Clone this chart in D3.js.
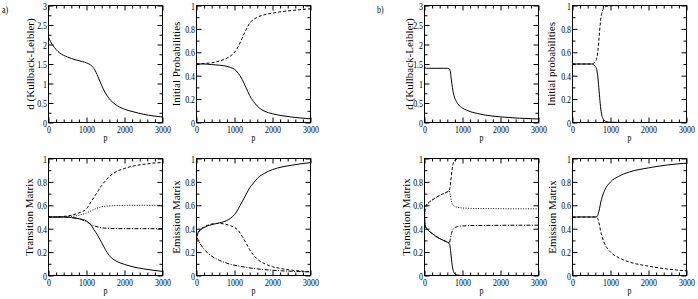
<!DOCTYPE html>
<html><head><meta charset="utf-8">
<script src="https://cdn.jsdelivr.net/npm/d3@7"></script>
<style>
body{margin:0;background:#fff}
svg text{font-family:"Liberation Serif","Times New Roman",serif;fill:#000}
</style></head><body>
<svg id="c" width="698" height="299"></svg>
<script>
// ---------- tick labels ----------
const xTicks = [0, 1000, 2000, 3000];
const xMinorTicks = [200,400,600,800,1200,1400,1600,1800,2200,2400,2600,2800];
const klTicks = [0, 0.5, 1, 1.5, 2, 2.5, 3];
const klMinorTicks = [0.25, 0.75, 1.25, 1.75, 2.25, 2.75];
const probTicks = [0, 0.2, 0.4, 0.6, 0.8, 1];
const probMinorTicks = [0.1, 0.3, 0.5, 0.7, 0.9];

// ---------- panel a) ----------
const pA1 = [0, 50, 100, 200, 300, 500, 700, 900, 1000, 1100, 1200, 1300, 1400, 1500, 1600, 1750, 2000, 2250, 2500, 2750, 3000];
const klA = [2.19, 2.08, 2.0, 1.87, 1.78, 1.68, 1.61, 1.56, 1.53, 1.48, 1.38, 1.18, 0.95, 0.75, 0.61, 0.47, 0.34, 0.27, 0.21, 0.17, 0.14];

const pA2 = [0, 200, 400, 600, 800, 900, 1000, 1100, 1200, 1300, 1400, 1500, 1600, 1800, 2000, 2250, 2500, 2750, 3000];
const initA_solid = [0.5, 0.5, 0.495, 0.49, 0.48, 0.47, 0.455, 0.42, 0.37, 0.3, 0.23, 0.18, 0.14, 0.095, 0.075, 0.058, 0.047, 0.038, 0.032];
const initA_dash  = [0.5, 0.505, 0.51, 0.525, 0.55, 0.57, 0.6, 0.65, 0.72, 0.79, 0.85, 0.88, 0.9, 0.922, 0.935, 0.948, 0.957, 0.965, 0.972];

const pA3 = [0, 200, 400, 600, 800, 1000, 1100, 1200, 1300, 1400, 1500, 1600, 1800, 2000, 2250, 2500, 2750, 3000];
const tA_solid   = [0.5, 0.5, 0.5, 0.495, 0.485, 0.465, 0.44, 0.39, 0.34, 0.28, 0.22, 0.17, 0.12, 0.095, 0.072, 0.057, 0.045, 0.035];
const tA_dash    = [0.5, 0.5, 0.505, 0.515, 0.535, 0.57, 0.62, 0.67, 0.72, 0.77, 0.81, 0.845, 0.89, 0.915, 0.937, 0.95, 0.96, 0.966];
const tA_dot     = [0.5, 0.5, 0.5, 0.505, 0.515, 0.535, 0.55, 0.565, 0.578, 0.587, 0.592, 0.595, 0.598, 0.6, 0.6, 0.6, 0.6, 0.6];
const tA_dashdot = [0.5, 0.5, 0.5, 0.495, 0.485, 0.46, 0.44, 0.425, 0.415, 0.408, 0.405, 0.403, 0.401, 0.4, 0.4, 0.4, 0.4, 0.4];

const pA4 = [0, 50, 100, 200, 300, 400, 600, 800, 900, 1000, 1100, 1200, 1300, 1400, 1500, 1600, 1800, 2000, 2250, 2500, 2750, 3000];
const eA_solid   = [0.33, 0.37, 0.39, 0.41, 0.425, 0.435, 0.45, 0.47, 0.49, 0.52, 0.57, 0.63, 0.69, 0.75, 0.79, 0.83, 0.875, 0.905, 0.928, 0.942, 0.955, 0.965];
const eA_dash    = [0.33, 0.37, 0.39, 0.415, 0.43, 0.44, 0.445, 0.435, 0.425, 0.41, 0.385, 0.335, 0.28, 0.22, 0.175, 0.14, 0.1, 0.075, 0.058, 0.046, 0.038, 0.032];
const eA_dashdot = [0.33, 0.3, 0.27, 0.225, 0.19, 0.165, 0.13, 0.105, 0.095, 0.088, 0.082, 0.076, 0.07, 0.065, 0.061, 0.057, 0.05, 0.045, 0.04, 0.036, 0.033, 0.03];

// ---------- panel b) ----------
const pB1 = [0, 20, 50, 100, 300, 500, 600, 650, 680, 700, 720, 750, 800, 850, 900, 1000, 1100, 1200, 1400, 1600, 2000, 2500, 3000];
const klB = [1.45, 1.4, 1.39, 1.39, 1.39, 1.39, 1.39, 1.38, 1.3, 1.15, 1.0, 0.8, 0.62, 0.52, 0.45, 0.37, 0.32, 0.28, 0.23, 0.19, 0.145, 0.11, 0.09];

const pB2 = [0, 300, 500, 550, 600, 640, 670, 700, 730, 760, 800, 850, 900, 1000, 1500, 3000];
const initB_solid = [0.5, 0.5, 0.5, 0.495, 0.48, 0.45, 0.38, 0.27, 0.16, 0.08, 0.035, 0.015, 0.007, 0.002, 0, 0];
const initB_dash  = [0.5, 0.5, 0.5, 0.505, 0.52, 0.55, 0.62, 0.73, 0.84, 0.92, 0.965, 0.985, 0.993, 0.998, 1, 1];

const pB3 = [0, 10, 25, 50, 100, 200, 300, 400, 500, 600, 650, 670, 690, 710, 730, 750, 780, 820, 870, 950, 1100, 1300, 1600, 2000, 2500, 3000];
const tB_solid   = [0.5, 0.45, 0.42, 0.405, 0.385, 0.36, 0.335, 0.315, 0.3, 0.285, 0.275, 0.255, 0.2, 0.14, 0.085, 0.05, 0.022, 0.009, 0.004, 0.001, 0, 0, 0, 0, 0, 0];
const tB_dash    = [0.5, 0.55, 0.58, 0.6, 0.62, 0.645, 0.665, 0.685, 0.7, 0.715, 0.725, 0.75, 0.8, 0.86, 0.915, 0.95, 0.978, 0.991, 0.996, 0.999, 1, 1, 1, 1, 1, 1];
const tB_dot     = [0.5, 0.55, 0.58, 0.6, 0.62, 0.645, 0.665, 0.685, 0.7, 0.715, 0.725, 0.705, 0.665, 0.635, 0.615, 0.603, 0.594, 0.587, 0.583, 0.579, 0.575, 0.573, 0.572, 0.571, 0.57, 0.57];
const tB_dashdot = [0.5, 0.45, 0.42, 0.405, 0.385, 0.36, 0.335, 0.315, 0.3, 0.285, 0.275, 0.295, 0.33, 0.36, 0.38, 0.393, 0.405, 0.413, 0.418, 0.422, 0.425, 0.427, 0.428, 0.429, 0.43, 0.43];

const pB4 = [0, 10, 30, 100, 300, 500, 600, 650, 680, 710, 740, 780, 850, 1000, 1200, 1500, 2000, 2500, 3000];
const eB_solid = [0.5, 0.5, 0.5, 0.5, 0.5, 0.5, 0.5, 0.505, 0.53, 0.57, 0.62, 0.67, 0.73, 0.8, 0.845, 0.885, 0.92, 0.945, 0.96];
const eB_dash  = [0.5, 0.5, 0.5, 0.5, 0.5, 0.5, 0.5, 0.495, 0.47, 0.43, 0.38, 0.33, 0.27, 0.2, 0.155, 0.115, 0.08, 0.055, 0.04];

// ---------- drawing ----------
const svg = d3.select("#c");
const W = 114, H = 117, SX = 0.72, FS = 11;
const DASH = {solid: null, dash: "3,2", dot: "1,1.5", dashdot: "4,1.5,1,1.5"};
const zip = (p, v) => p.map((d, i) => [d, v[i]]);
let clipId = 0;

function styleText(sel) {
  sel.attr("font-family", '"Liberation Serif","Times New Roman",serif').attr("font-size", FS).attr("fill", "#000");
}

function panel(o) {
  const x = d3.scaleLinear().domain([0, 3000]).range([o.x0 + 0.5, o.x0 + W + 0.5]);
  const y = d3.scaleLinear().domain([0, o.yMax]).range([o.y0 + H + 0.5, o.y0 + 0.5]);
  const g = svg.append("g");
  const id = "clip" + (clipId++);
  g.append("clipPath").attr("id", id).append("rect")
    .attr("x", o.x0).attr("y", o.y0).attr("width", W + 1).attr("height", H + 1);
  const line = d3.line().x(d => x(d[0])).y(d => y(d[1])).curve(d3.curveMonotoneX);
  const lg = g.append("g").attr("clip-path", `url(#${id})`);
  o.series.forEach(s => {
    lg.append("path").attr("d", line(zip(s.p, s.v)))
      .attr("fill", "none").attr("stroke", "#000").attr("stroke-width", 1)
      .attr("stroke-dasharray", DASH[s.style]);
  });
  // frame
  g.append("rect").attr("x", o.x0 + 0.5).attr("y", o.y0 + 0.5).attr("width", W).attr("height", H)
    .attr("fill", "none").attr("stroke", "#000").attr("stroke-width", 1);

  const ax = (gen, tx, ty) => {
    const a = g.append("g").attr("transform", `translate(${tx},${ty})`).call(gen);
    a.select(".domain").remove();
    a.selectAll("line").attr("stroke", "#000").attr("stroke-width", 1);
    return a;
  };
  // bottom
  const b = ax(d3.axisBottom(x).tickValues(xTicks).tickSizeInner(-5).tickSizeOuter(0).tickPadding(3).tickFormat(d3.format("d")), 0, y(0));
  styleText(b.selectAll("text"));
  b.selectAll("text").attr("transform", `scale(${SX},1)`);
  ax(d3.axisBottom(x).tickValues(xMinorTicks).tickSize(-3).tickFormat(""), 0, y(0));
  ax(d3.axisTop(x).tickValues(xTicks).tickSize(-5).tickFormat(""), 0, y(o.yMax));
  ax(d3.axisTop(x).tickValues(xMinorTicks).tickSize(-3).tickFormat(""), 0, y(o.yMax));
  // left
  const l = ax(d3.axisLeft(y).tickValues(o.yTicks).tickSizeInner(-5).tickSizeOuter(0).tickPadding(2).tickFormat(d3.format("~g")), x(0), 0);
  styleText(l.selectAll("text"));
  l.selectAll("text").attr("transform", `scale(${SX},1)`);
  ax(d3.axisLeft(y).tickValues(o.yMinor).tickSize(-3).tickFormat(""), x(0), 0);
  ax(d3.axisRight(y).tickValues(o.yTicks).tickSize(-5).tickFormat(""), x(3000), 0);
  ax(d3.axisRight(y).tickValues(o.yMinor).tickSize(-3).tickFormat(""), x(3000), 0);

  // y title
  const t = g.append("text").attr("transform", `translate(${o.titleX},${o.y0 + H / 2 + 0.5}) rotate(-90)`)
    .attr("text-anchor", "middle").text(o.title);
  styleText(t);
  // x title
  const p = g.append("text").attr("transform", `translate(${o.x0 + W / 2 + 0.5},${o.y0 + H + 19}) scale(${SX},1)`)
    .attr("text-anchor", "middle").text("p");
  styleText(p);
}

const probY = {yMax: 1, yTicks: probTicks, yMinor: probMinorTicks};
const klY = {yMax: 3, yTicks: klTicks, yMinor: klMinorTicks};

panel(Object.assign({x0: 48, y0: 5, title: "d (Kullback-Leibler)", titleX: 34,
  series: [{p: pA1, v: klA, style: "solid"}]}, klY));
panel(Object.assign({x0: 196, y0: 5, title: "Initial Probabilities", titleX: 180,
  series: [{p: pA2, v: initA_solid, style: "solid"}, {p: pA2, v: initA_dash, style: "dash"}]}, probY));
panel(Object.assign({x0: 48, y0: 158, title: "Transition Matrix", titleX: 33,
  series: [{p: pA3, v: tA_solid, style: "solid"}, {p: pA3, v: tA_dash, style: "dash"},
           {p: pA3, v: tA_dot, style: "dot"}, {p: pA3, v: tA_dashdot, style: "dashdot"}]}, probY));
panel(Object.assign({x0: 196, y0: 158, title: "Emission Matrix", titleX: 179.5,
  series: [{p: pA4, v: eA_solid, style: "solid"}, {p: pA4, v: eA_dash, style: "dash"},
           {p: pA4, v: eA_dashdot, style: "dashdot"}]}, probY));

panel(Object.assign({x0: 424, y0: 5, title: "d (Kullback-Leibler)", titleX: 413,
  series: [{p: pB1, v: klB, style: "solid"}]}, klY));
panel(Object.assign({x0: 572, y0: 5, title: "Initial probabilities", titleX: 555,
  series: [{p: pB2, v: initB_solid, style: "solid"}, {p: pB2, v: initB_dash, style: "dash"}]}, probY));
panel(Object.assign({x0: 424, y0: 158, title: "Transition Matrix", titleX: 410,
  series: [{p: pB3, v: tB_solid, style: "solid"}, {p: pB3, v: tB_dash, style: "dash"},
           {p: pB3, v: tB_dot, style: "dot"}, {p: pB3, v: tB_dashdot, style: "dashdot"}]}, probY));
panel(Object.assign({x0: 572, y0: 158, title: "Emission Matrix", titleX: 555.5,
  series: [{p: pB4, v: eB_solid, style: "solid"}, {p: pB4, v: eB_dash, style: "dash"}]}, probY));

// panel letters
styleText(svg.append("text").attr("transform", `translate(2,13) scale(${SX},1)`).text("a)"));
styleText(svg.append("text").attr("transform", `translate(377,13) scale(${SX},1)`).text("b)"));
</script>
</body></html>
